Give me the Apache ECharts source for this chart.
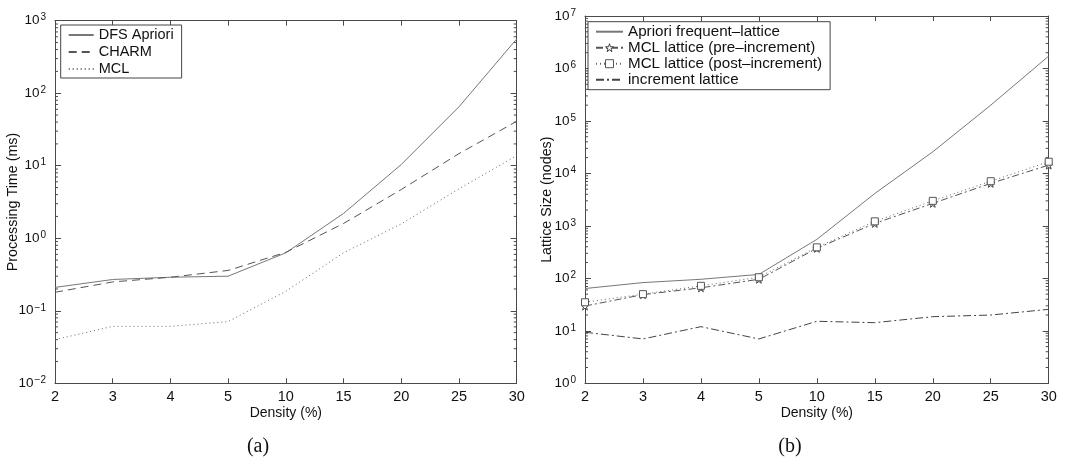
<!DOCTYPE html>
<html>
<head>
<meta charset="utf-8">
<script src="https://cdn.jsdelivr.net/npm/echarts@6/dist/echarts.min.js"></script>
<style>html,body{margin:0;padding:0;background:#fff;}#c{width:1068px;height:465px;}</style>
</head>
<body>
<div id="c"></div>
<script>
// ---------- data ----------
const densities = ['2', '3', '4', '5', '10', '15', '20', '25', '30'];

// (a) Processing time (ms)
const dfsApriori = [0.21, 0.27, 0.29, 0.30, 0.63, 2.2, 10.4, 65, 560];
const charm      = [0.18, 0.25, 0.29, 0.36, 0.64, 1.6, 4.7, 14.7, 41];
const mcl        = [0.040, 0.061, 0.061, 0.071, 0.186, 0.63, 1.58, 4.8, 13.8];

// (b) Lattice size (nodes)
const aprioriLattice = [64, 83, 96, 119, 553, 4150, 25800, 200000, 1720000];
const mclPre         = [29.7, 49, 66, 96, 373, 1115, 2690, 6460, 14400];
const mclPost        = [35, 50, 72, 105, 390, 1220, 3000, 7100, 16700];
const incrLattice    = [9.4, 7.0, 12, 7.0, 15.2, 14.3, 18.6, 20, 25.7];

// axis ranges (decade exponents) and log minor-tick multipliers
const rangeA = [-2, 3];
const rangeB = [0, 7];
const minorMultipliers = [2, 3, 4, 5, 6, 7, 8, 9];

// ---------- style ----------
const FONT = 'Liberation Sans, Arial, Helvetica, sans-serif';
const AX = '#4a4a4a';
const STAR = 'path://M50,0 L61,35 L98,35 L68,57 L79,91 L50,70 L21,91 L32,57 L2,35 L39,35 Z';

function minorValues(range) {
  const out = [];
  for (let e = range[0]; e < range[1]; e++) {
    minorMultipliers.forEach(function (m) { out.push([m * Math.pow(10, e)]); });
  }
  return out;
}

function expLabel(v) {
  const e = Math.round(Math.log10(v));
  const s = e < 0 ? '\u2212' + (-e) : String(e);
  return '{b|10}{s|' + s + '}';
}
const richLab = {
  b: { fontSize: 13.5, fontFamily: FONT, color: '#111', lineHeight: 16 },
  s: { fontSize: 10, fontFamily: FONT, color: '#111', verticalAlign: 'top', lineHeight: 10, padding: [0, 0, 8, 1] }
};

function xAx(grid, pos, showLab) {
  return {
    type: 'category', gridIndex: grid, position: pos, data: densities,
    boundaryGap: false,
    axisLine: { show: true, onZero: false, lineStyle: { color: AX, width: 1 } },
    axisTick: { show: true, inside: true, length: 5, alignWithLabel: true, lineStyle: { color: AX } },
    axisLabel: { show: showLab, margin: 6, fontSize: 14.5, fontFamily: FONT, color: '#111' },
    splitLine: { show: false },
    name: showLab ? 'Density (%)' : '', nameLocation: 'middle', nameGap: 23,
    nameMoveOverlap: false,
    nameTextStyle: { fontSize: 14, fontFamily: FONT, color: '#111' }
  };
}
function yAx(grid, pos, range, showLab, name, gap) {
  return {
    type: 'log', logBase: 10, gridIndex: grid, position: pos,
    min: Math.pow(10, range[0]), max: Math.pow(10, range[1]),
    axisLine: { show: true, onZero: false, lineStyle: { color: AX, width: 1 } },
    axisTick: { show: true, inside: true, length: 6, lineStyle: { color: AX } },
    axisLabel: { show: showLab, margin: 9, formatter: expLabel, rich: richLab },
    splitLine: { show: false },
    name: name, nameLocation: 'middle', nameGap: gap, nameMoveOverlap: false,
    nameTextStyle: { fontSize: 14.3, fontFamily: FONT, color: '#111' }
  };
}
function line(name, data, xi, yi, color, type, extra) {
  return Object.assign({
    name: name, type: 'line', data: data, xAxisIndex: xi, yAxisIndex: yi,
    symbol: 'none', showSymbol: false, smooth: false, animation: false,
    lineStyle: { color: color, width: 1, type: type },
    itemStyle: { color: color }
  }, extra || {});
}
function minorTickSeries(xi, yi, range) {
  return {
    type: 'custom', xAxisIndex: xi, yAxisIndex: yi, silent: true, clip: false,
    data: minorValues(range), animation: false, z: 1,
    renderItem: function (params, api) {
      const v = api.value(0);
      const l = api.coord([0, v]);
      const r = api.coord([densities.length - 1, v]);
      const st = { stroke: AX, lineWidth: 1 };
      return {
        type: 'group', children: [
          { type: 'line', shape: { x1: l[0], y1: l[1], x2: l[0] + 3, y2: l[1] }, style: st },
          { type: 'line', shape: { x1: r[0] - 3, y1: r[1], x2: r[0], y2: r[1] }, style: st }
        ]
      };
    }
  };
}

const hide = { color: 'transparent', borderWidth: 0, opacity: 0 };
const legendText = function (fs) { return { fontSize: fs, fontFamily: FONT, color: '#111', lineHeight: 16 }; };

const option = {
  animation: false,
  backgroundColor: '#fff',
  textStyle: { fontFamily: FONT },
  grid: [
    { left: 55, top: 20.7, right: 551.3, bottom: 81.7 },
    { left: 585, top: 16, right: 19.3, bottom: 81.7 }
  ],
  xAxis: [xAx(0, 'bottom', true), xAx(0, 'top', false), xAx(1, 'bottom', true), xAx(1, 'top', false)],
  yAxis: [
    yAx(0, 'left', rangeA, true, 'Processing Time (ms)', 35),
    yAx(0, 'right', rangeA, false, '', 0),
    yAx(1, 'left', rangeB, true, 'Lattice Size (nodes)', 31),
    yAx(1, 'right', rangeB, false, '', 0)
  ],
  legend: [
    {
      data: [
        { name: 'DFS Apriori', itemStyle: hide },
        { name: 'CHARM', itemStyle: hide },
        { name: 'MCL', itemStyle: hide }
      ],
      orient: 'vertical', left: 60.7, top: 25,
      itemWidth: 25, itemHeight: 10, itemGap: 1, padding: [2, 8, 1, 7],
      borderColor: '#444', borderWidth: 1, backgroundColor: '#fff',
      textStyle: legendText(14.5)
    },
    {
      data: [
        { name: 'Apriori frequent\u2013lattice', itemStyle: hide },
        { name: 'MCL lattice (pre\u2013increment)', itemStyle: { color: '#fff', borderColor: '#444', borderWidth: 1 } },
        { name: 'MCL lattice (post\u2013increment)', itemStyle: { color: '#fff', borderColor: '#555', borderWidth: 1 } },
        { name: 'increment lattice', itemStyle: hide }
      ],
      orient: 'vertical', left: 588, top: 21.7,
      itemWidth: 27, itemHeight: 10, itemGap: 0, padding: [2, 8, 2, 7],
      borderColor: '#444', borderWidth: 1, backgroundColor: '#fff',
      textStyle: legendText(15.2)
    }
  ],
  graphic: [
    { type: 'text', x: 258, y: 447, style: { text: '(a)', font: '20px "Liberation Serif", "DejaVu Serif", serif', fill: '#111', textAlign: 'center', textVerticalAlign: 'middle' } },
    { type: 'text', x: 790, y: 447, style: { text: '(b)', font: '20px "Liberation Serif", "DejaVu Serif", serif', fill: '#111', textAlign: 'center', textVerticalAlign: 'middle' } }
  ],
  series: [
    minorTickSeries(0, 0, rangeA),
    minorTickSeries(2, 2, rangeB),
    line('DFS Apriori', dfsApriori, 0, 0, '#777', 'solid'),
    line('CHARM', charm, 0, 0, '#555', [8, 5]),
    line('MCL', mcl, 0, 0, '#666', [1, 3]),
    line('Apriori frequent\u2013lattice', aprioriLattice, 2, 2, '#777', 'solid'),
    line('MCL lattice (pre\u2013increment)', mclPre, 2, 2, '#555', [7, 3, 2, 3], {
      symbol: STAR, showSymbol: true, symbolSize: 8,
      itemStyle: { color: '#fff', borderColor: '#444', borderWidth: 1 }
    }),
    line('MCL lattice (post\u2013increment)', mclPost, 2, 2, '#666', [1, 3], {
      symbol: 'rect', showSymbol: true, symbolSize: 7,
      itemStyle: { color: '#fff', borderColor: '#555', borderWidth: 1 }
    }),
    line('increment lattice', incrLattice, 2, 2, '#444', [8, 3, 2, 3])
  ]
};

const chart = echarts.init(document.getElementById('c'), null, { renderer: 'canvas' });
chart.setOption(option);
</script>
</body>
</html>
